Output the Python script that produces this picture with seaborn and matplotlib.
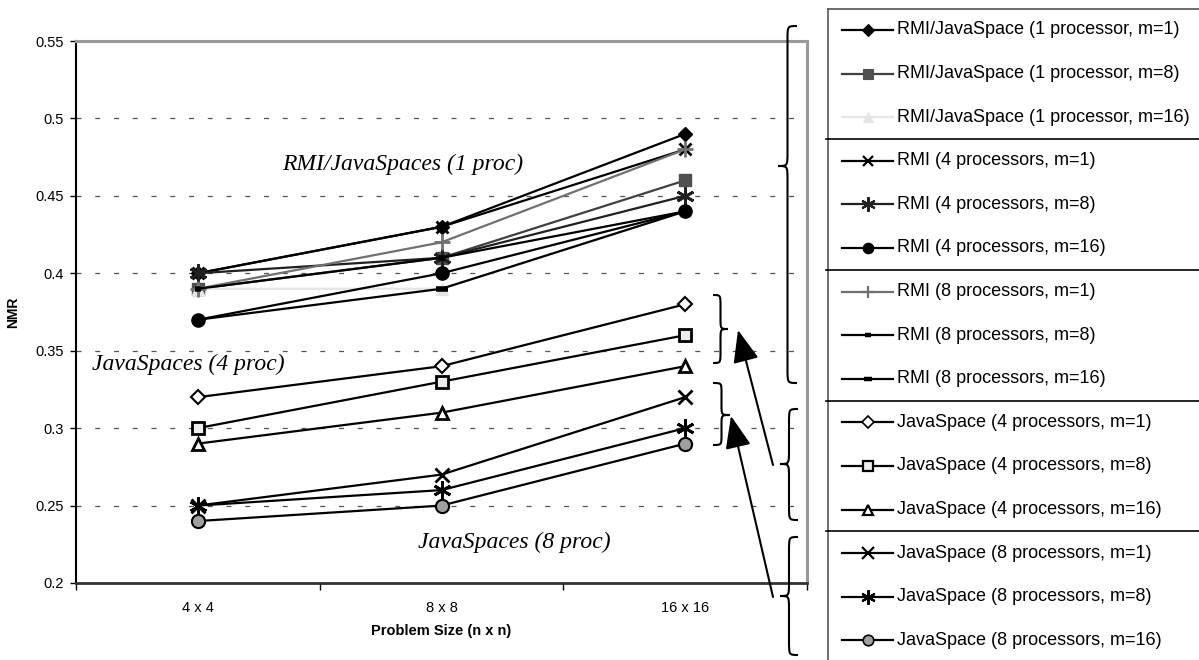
import numpy as np
import pandas as pd
import matplotlib
matplotlib.use("Agg")
import matplotlib.pyplot as plt
from matplotlib.path import Path
from matplotlib.patches import PathPatch
import seaborn as sns

plt.rcParams['font.family'] = ['Liberation Sans', 'DejaVu Sans']

# ---- data ----
sizes = ["4 x 4", "8 x 8", "16 x 16"]

labels = [
    "RMI/JavaSpace (1 processor, m=1)",
    "RMI/JavaSpace (1 processor, m=8)",
    "RMI/JavaSpace (1 processor, m=16)",
    "RMI (4 processors, m=1)",
    "RMI (4 processors, m=8)",
    "RMI (4 processors, m=16)",
    "RMI (8 processors, m=1)",
    "RMI (8 processors, m=8)",
    "RMI (8 processors, m=16)",
    "JavaSpace (4 processors, m=1)",
    "JavaSpace (4 processors, m=8)",
    "JavaSpace (4 processors, m=16)",
    "JavaSpace (8 processors, m=1)",
    "JavaSpace (8 processors, m=8)",
    "JavaSpace (8 processors, m=16)",
]

rmi_js1_m1 = [0.40, 0.43, 0.49]
rmi_js1_m8 = [0.39, 0.41, 0.46]
rmi_js1_m16 = [0.39, 0.39, 0.44]
rmi4_m1 = [0.40, 0.43, 0.48]
rmi4_m8 = [0.40, 0.41, 0.45]
rmi4_m16 = [0.37, 0.40, 0.44]
rmi8_m1 = [0.39, 0.42, 0.48]
rmi8_m8 = [0.39, 0.41, 0.44]
rmi8_m16 = [0.37, 0.39, 0.44]
js4_m1 = [0.32, 0.34, 0.38]
js4_m8 = [0.30, 0.33, 0.36]
js4_m16 = [0.29, 0.31, 0.34]
js8_m1 = [0.25, 0.27, 0.32]
js8_m8 = [0.25, 0.26, 0.30]
js8_m16 = [0.24, 0.25, 0.29]

series = [rmi_js1_m1, rmi_js1_m8, rmi_js1_m16, rmi4_m1, rmi4_m8, rmi4_m16,
          rmi8_m1, rmi8_m8, rmi8_m16, js4_m1, js4_m8, js4_m16,
          js8_m1, js8_m8, js8_m16]

ASTER = (6, 2, 0)
# line color, marker, face, edge, size, edge width
styles = [
    ("black", "D", "black", "black", 7.5, 1.0),
    ("#404040", "s", "#505050", "#505050", 9, 1.0),
    ("#e6e6e6", "^", "#e6e6e6", "#e6e6e6", 9, 1.0),
    ("black", "x", "black", "black", 9, 2.0),
    ("#202020", ASTER, "#202020", "#202020", 13, 2.0),
    ("black", "o", "black", "black", 9.5, 1.0),
    ("#707070", "+", "#707070", "#707070", 11, 2.0),
    ("black", "_", "black", "black", 5, 4.0),
    ("black", "_", "black", "black", 8, 4.0),
    ("black", "D", "white", "black", 7.5, 1.5),
    ("black", "s", "#eeeeee", "black", 9, 2.0),
    ("black", "^", "white", "black", 9, 2.0),
    ("black", "x", "black", "black", 10, 2.0),
    ("black", ASTER, "black", "black", 13, 2.0),
    ("black", "o", "#a0a0a0", "black", 9.5, 1.5),
]

W, H = 1199, 660
fig = plt.figure(figsize=(W / 100, H / 100), dpi=100)
ax = fig.add_axes([76 / W, 1 - 583 / H, (807 - 76) / W, (583 - 41) / H])

for lab, vals, (c, m, fc, ec, ms, mew) in zip(labels, series, styles):
    df = pd.DataFrame({"size": sizes, "NMR": vals})
    sns.lineplot(data=df, x="size", y="NMR", ax=ax, sort=False, errorbar=None,
                 color=c, marker=m, markerfacecolor=fc, markeredgecolor=ec,
                 markersize=ms, markeredgewidth=mew, linewidth=1.6, legend=False)

ax.set_xlim(-0.5, 2.5)
ax.set_ylim(0.2, 0.55)
yt = np.arange(0.2, 0.5501, 0.05)
ax.set_yticks(yt)
ax.set_yticklabels([f"{v:g}" for v in yt], fontsize=10.5)
ax.tick_params(axis="y", length=4, width=1, pad=5)
ax.tick_params(axis="x", which="major", length=0, pad=13, labelsize=10.5)
ax.set_xticks([-0.5, 0.5, 1.5, 2.5], minor=True)
ax.tick_params(axis="x", which="minor", length=5, width=1)
ax.yaxis.grid(True, linestyle=(0, (4, 11)), color="#555555", linewidth=0.9)
ax.set_axisbelow(True)
ax.spines["left"].set_color("black")
ax.spines["left"].set_linewidth(1.5)
ax.spines["bottom"].set_color("#333333")
ax.spines["bottom"].set_linewidth(2)
for s in ("top", "right"):
    ax.spines[s].set_color("#999999")
    ax.spines[s].set_linewidth(2.2)

ax.set_xlabel("Problem Size (n x n)", fontsize=10.5, fontweight="bold")
ax.xaxis.set_label_coords(0.5, -0.075)
ax.set_ylabel("NMR", fontsize=10, fontweight="bold")
ax.yaxis.set_label_coords(-0.077, 0.5)

serif = dict(family="Liberation Serif", style="italic", fontsize=17,
             ha="center", va="center")
ax.text(0.84, 0.47, "RMI/JavaSpaces (1 proc)", **serif)
ax.text(-0.04, 0.341, "JavaSpaces (4 proc)", **serif)
ax.text(1.30, 0.226, "JavaSpaces (8 proc)", **serif)

# ---- overlay in pixel coordinates: legend, braces, arrows ----
ov = fig.add_axes([0, 0, 1, 1])
ov.set_xlim(0, W)
ov.set_ylim(H, 0)
ov.axis("off")
ov.patch.set_alpha(0)

row_y = 30 + 43.6 * np.arange(len(labels))
for y, lab, (c, m, fc, ec, ms, mew) in zip(row_y, labels, styles):
    ov.plot([842, 893], [y, y], color=c, linewidth=1.6)
    ov.plot([867.5], [y], marker=m, color=c, markerfacecolor=fc,
            markeredgecolor=ec, markersize=ms * 0.8, markeredgewidth=mew * 0.8)
    ov.text(897, y, lab, fontsize=13, va="center", ha="left")

ov.plot([828, 828], [9, H], color="#555555", linewidth=1.2)
ov.plot([828, W], [9, 9], color="#555555", linewidth=1.2)
for k in (3, 6, 9, 12):
    ys = (row_y[k - 1] + row_y[k]) / 2
    ov.plot([826, W], [ys, ys], color="black", linewidth=1.2)


def brace(x_end, x_tip, y0, y1, ymid):
    xm = (x_end + x_tip) / 2
    c = min(14, (ymid - y0) / 3, (y1 - ymid) / 3)
    verts = [(x_end, y0),
             (xm, y0), (xm, y0), (xm, y0 + c),
             (xm, ymid - c),
             (xm, ymid), (xm, ymid), (x_tip, ymid),
             (xm, ymid), (xm, ymid), (xm, ymid + c),
             (xm, y1 - c),
             (xm, y1), (xm, y1), (x_end, y1)]
    codes = [Path.MOVETO] + [Path.CURVE4] * 3 + [Path.LINETO] + \
        [Path.CURVE4] * 6 + [Path.LINETO] + [Path.CURVE4] * 3
    ov.add_patch(PathPatch(Path(verts, codes), fill=False, color="black",
                           linewidth=1.5))


braces = [(797, 778, 26, 383, 166), (798, 780, 409, 520, 464),
          (798, 780, 537, 655, 596), (713, 728, 295, 363, 329),
          (713, 730, 383, 445, 415)]
for b in braces:
    brace(*b)

arrows = [((773, 465), (738, 330)), ((773, 597), (731, 416))]
for tail, tip in arrows:
    ov.annotate("", xy=tip, xytext=tail,
                arrowprops=dict(arrowstyle="-|>,head_length=1.0,head_width=0.4",
                                color="black", linewidth=1.5,
                                mutation_scale=20, shrinkA=0, shrinkB=0))

fig.savefig("out.png", dpi=100)
